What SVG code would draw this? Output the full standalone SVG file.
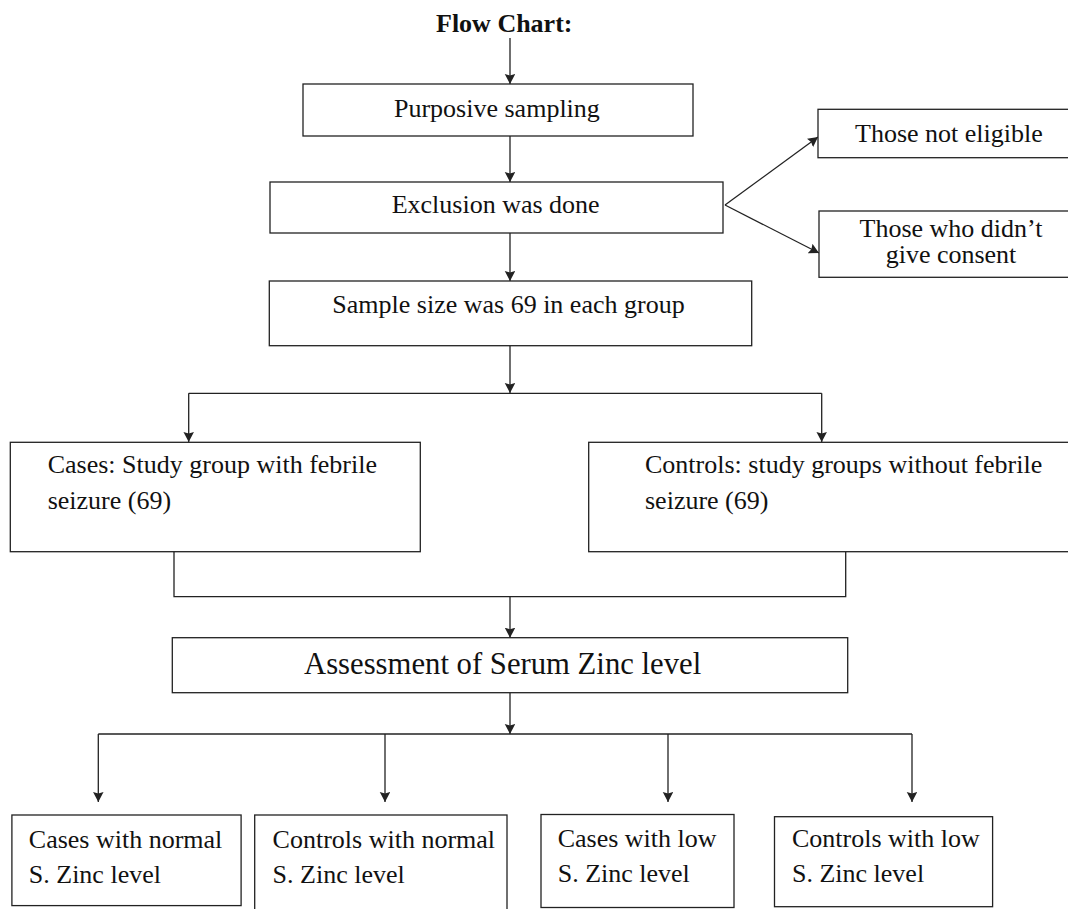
<svg xmlns="http://www.w3.org/2000/svg" width="1068" height="909" viewBox="0 0 1068 909">
<style>
  .box { fill: #fff; stroke: #222; stroke-width: 1.3; }
  .t { font-family: "Liberation Serif", "Times New Roman", serif; font-size: 26px; fill: #111; }
  .title { font-family: "Liberation Serif", "Times New Roman", serif; font-size: 26px; font-weight: bold; fill: #111; }
  .big { font-family: "Liberation Serif", "Times New Roman", serif; font-size: 30.7px; fill: #111; }
  .c { fill: none; stroke: #222; stroke-width: 1.3; }
  .a { fill: none; stroke: #222; stroke-width: 1.3; marker-end: url(#ah); }
</style>
<defs>
  <marker id="ah" markerUnits="userSpaceOnUse" markerWidth="12" markerHeight="12" refX="10" refY="5.25" orient="auto">
    <path d="M0,0 L10,5.25 L0,10.5 L1.5,5.25 z" fill="#222"/>
  </marker>
</defs>
<rect width="1068" height="909" fill="#fff"/>
<text class="title" x="436" y="32">Flow Chart:</text>

<g id="connectors">
  <line class="a" x1="510" y1="38" x2="510" y2="84"/>
  <line class="a" x1="510" y1="136" x2="510" y2="182"/>
  <line class="a" x1="725" y1="205" x2="818" y2="137"/>
  <line class="a" x1="725" y1="205" x2="819" y2="253"/>
  <line class="a" x1="510" y1="233" x2="510" y2="281"/>
  <line class="a" x1="510" y1="346" x2="510" y2="393"/>
  <path class="c" d="M188.7,393.3 H821.7"/>
  <line class="a" x1="188.7" y1="393.3" x2="188.7" y2="442"/>
  <line class="a" x1="821.7" y1="393.3" x2="821.7" y2="442"/>
  <path class="c" d="M174,551.7 V596.7 H845.7 V551.7"/>
  <line class="a" x1="510" y1="596.7" x2="510" y2="637.7"/>
  <line class="a" x1="510" y1="692.7" x2="510" y2="734"/>
  <path class="c" d="M98.3,734 H912"/>
  <line class="a" x1="98.3" y1="734" x2="98.3" y2="802"/>
  <line class="a" x1="385" y1="734" x2="385" y2="802"/>
  <line class="a" x1="668" y1="734" x2="668" y2="802"/>
  <line class="a" x1="912" y1="734" x2="912" y2="802"/>
</g>

<g id="purposive">
  <rect class="box" x="303" y="84" width="390" height="52"/>
  <text class="t" x="394" y="117">Purposive sampling</text>
</g>
<g id="exclusion">
  <rect class="box" x="270" y="182" width="453" height="51"/>
  <text class="t" x="391.7" y="213">Exclusion was done</text>
</g>
<g id="not-eligible">
  <rect class="box" x="818" y="109.3" width="260" height="48.4"/>
  <text class="t" x="855" y="141.7">Those not eligible</text>
</g>
<g id="no-consent">
  <rect class="box" x="819" y="211" width="260" height="66.3"/>
  <text class="t" x="951" y="236.7" text-anchor="middle">Those who didn’t</text>
  <text class="t" x="951" y="263.3" text-anchor="middle">give consent</text>
</g>
<g id="sample">
  <rect class="box" x="269.3" y="281" width="482.4" height="64.7"/>
  <text class="t" x="332.3" y="313.3">Sample size was 69 in each group</text>
</g>
<g id="cases">
  <rect class="box" x="10.3" y="442.3" width="410" height="109.4"/>
  <text class="t" x="47.7" y="473.3">Cases: Study group with febrile</text>
  <text class="t" x="47.7" y="509.3">seizure (69)</text>
</g>
<g id="controls">
  <rect class="box" x="588.7" y="442.3" width="490" height="109.4"/>
  <text class="t" x="645" y="473.3">Controls: study groups without febrile</text>
  <text class="t" x="645" y="509.3">seizure (69)</text>
</g>
<g id="assessment">
  <rect class="box" x="172.3" y="637.7" width="675.4" height="55"/>
  <text class="big" x="304" y="674.3">Assessment of Serum Zinc level</text>
</g>
<g id="cases-normal">
  <rect class="box" x="11.9" y="815" width="229.2" height="90.6"/>
  <text class="t" x="28.8" y="848.3">Cases with normal</text>
  <text class="t" x="28.8" y="882.5">S. Zinc level</text>
</g>
<g id="controls-normal">
  <rect class="box" x="254.7" y="815" width="252.3" height="110"/>
  <text class="t" x="272.6" y="848.3">Controls with normal</text>
  <text class="t" x="272.6" y="882.5">S. Zinc level</text>
</g>
<g id="cases-low">
  <rect class="box" x="541" y="814.5" width="193" height="93"/>
  <text class="t" x="557.7" y="847">Cases with low</text>
  <text class="t" x="557.7" y="882">S. Zinc level</text>
</g>
<g id="controls-low">
  <rect class="box" x="774.5" y="816.7" width="218.1" height="90"/>
  <text class="t" x="792" y="847">Controls with low</text>
  <text class="t" x="792" y="882">S. Zinc level</text>
</g>
</svg>
